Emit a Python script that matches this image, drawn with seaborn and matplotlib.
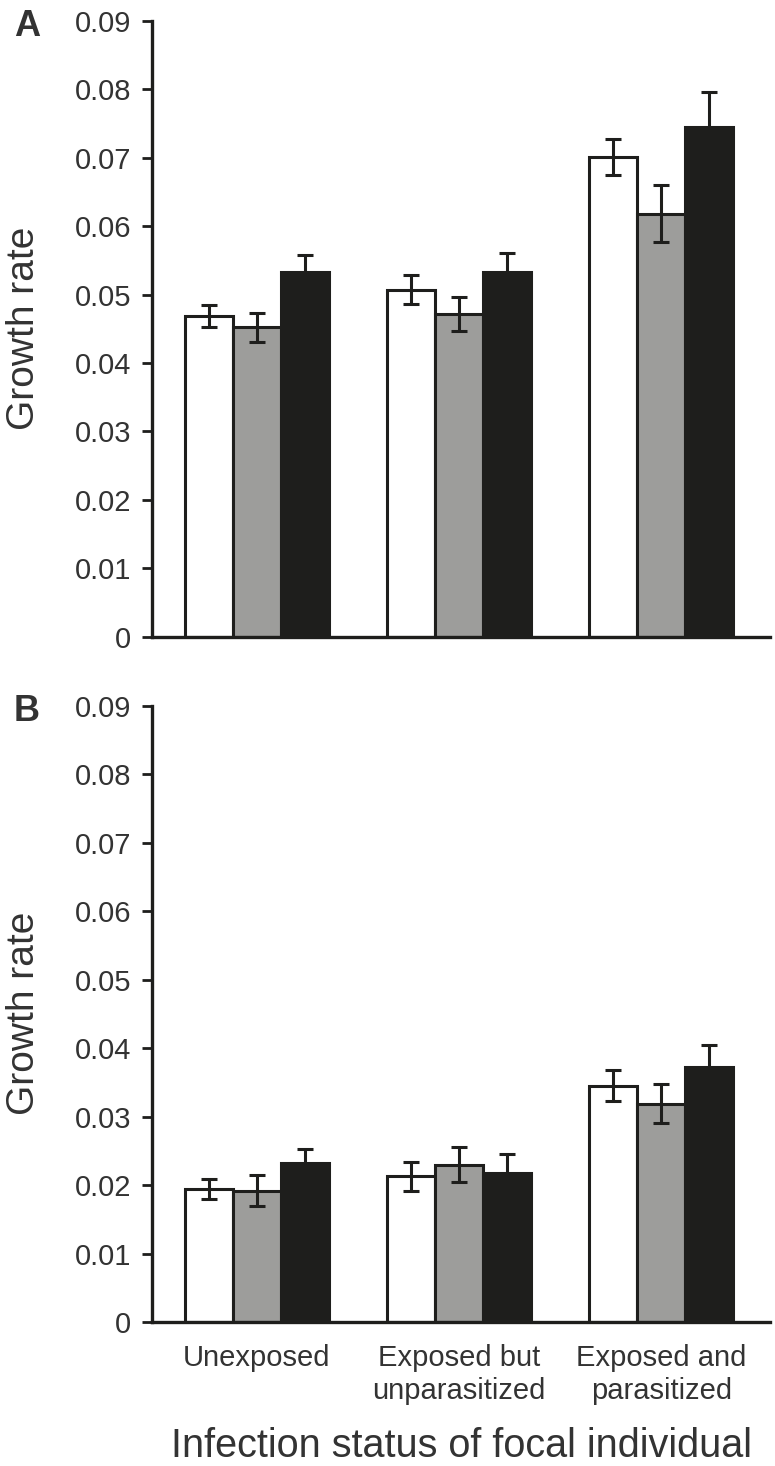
import pandas as pd
import matplotlib
matplotlib.use("Agg")
import matplotlib.pyplot as plt
import seaborn as sns

# ---- Data ---- #
statuses = ["Unexposed", "Exposed but\nunparasitized", "Exposed and\nparasitized"]
groups = ["Group 1", "Group 2", "Group 3"]
bar_colors = ["#ffffff", "#9d9d9b", "#1e1e1c"]

# Panel A
a_g1 = [0.0469, 0.0507, 0.0701]
a_g2 = [0.0452, 0.0472, 0.0618]
a_g3 = [0.0533, 0.0533, 0.0745]
a_g1_se = [0.0016, 0.0021, 0.0026]
a_g2_se = [0.0021, 0.0025, 0.0042]
a_g3_se = [0.0024, 0.0028, 0.0050]

# Panel B
b_g1 = [0.0194, 0.0213, 0.0345]
b_g2 = [0.0192, 0.0230, 0.0319]
b_g3 = [0.0232, 0.0217, 0.0372]
b_g1_se = [0.0015, 0.0021, 0.0023]
b_g2_se = [0.0022, 0.0026, 0.0028]
b_g3_se = [0.0020, 0.0029, 0.0033]

yticks = [0, 0.01, 0.02, 0.03, 0.04, 0.05, 0.06, 0.07, 0.08, 0.09]
ytick_labels = ["0", "0.01", "0.02", "0.03", "0.04", "0.05", "0.06", "0.07", "0.08", "0.09"]


def make_df(means, ses):
    rows = []
    for gi, g in enumerate(groups):
        for si, s in enumerate(statuses):
            rows.append({"status": s, "group": g, "rate": means[gi][si],
                         "se": ses[gi][si], "si": si, "gi": gi})
    return pd.DataFrame(rows)


df_a = make_df([a_g1, a_g2, a_g3], [a_g1_se, a_g2_se, a_g3_se])
df_b = make_df([b_g1, b_g2, b_g3], [b_g1_se, b_g2_se, b_g3_se])

sns.set_style("ticks")
plt.rcParams["font.family"] = ["Liberation Sans", "DejaVu Sans"]

text_col = "#333333"
line_col = "#1e1e1c"

fig = plt.figure(figsize=(7.75, 14.66), dpi=100)
ax_a = fig.add_axes([0.196, 0.5655, 0.798, 0.4205])
ax_b = fig.add_axes([0.196, 0.0982, 0.798, 0.4205])


def draw_panel(ax, df, letter, show_x):
    sns.barplot(data=df, x="status", y="rate", hue="group", order=statuses,
                hue_order=groups, palette=bar_colors, saturation=1,
                edgecolor=line_col, linewidth=2.2, width=0.71,
                errorbar=None, legend=False, ax=ax)
    # error bars at the centre of each drawn bar
    bars = sorted([p for p in ax.patches if p.get_height() > 0], key=lambda p: p.get_x())
    d = df.sort_values(["si", "gi"]).reset_index(drop=True)
    xs = [p.get_x() + p.get_width() / 2 for p in bars]
    ax.errorbar(xs, d["rate"], yerr=d["se"], fmt="none", ecolor=line_col,
                elinewidth=2.2, capsize=5.5, capthick=2.2, zorder=5)

    ax.set_ylim(0, 0.09)
    ax.set_xlim(-0.52, 2.54)
    ax.set_yticks(yticks)
    ax.set_yticklabels(ytick_labels)
    ax.set_ylabel("Growth rate", fontsize=28, color=text_col)
    ax.yaxis.set_label_coords(-0.178, 0.5)
    ax.tick_params(axis="y", length=7, width=2, color=line_col,
                   labelsize=21, labelcolor=text_col, pad=8)
    ax.tick_params(axis="x", length=0, labelsize=21, labelcolor=text_col, pad=16)
    for side in ["left", "bottom"]:
        ax.spines[side].set_linewidth(2.4)
        ax.spines[side].set_color(line_col)
    sns.despine(ax=ax)
    if show_x:
        for lab in ax.get_xticklabels():
            lab.set_linespacing(1.2)
        ax.set_xlabel("Infection status of focal individual", fontsize=28.5,
                      color=text_col, labelpad=16)
    else:
        ax.set_xticklabels([])
        ax.set_xlabel("")
    ax.text(-0.223, 0.99, letter, transform=ax.transAxes, fontsize=26,
            fontweight="bold", color=text_col, va="center", ha="left")


draw_panel(ax_a, df_a, "A", False)
draw_panel(ax_b, df_b, "B", True)

plt.savefig("out.png", dpi=100)
